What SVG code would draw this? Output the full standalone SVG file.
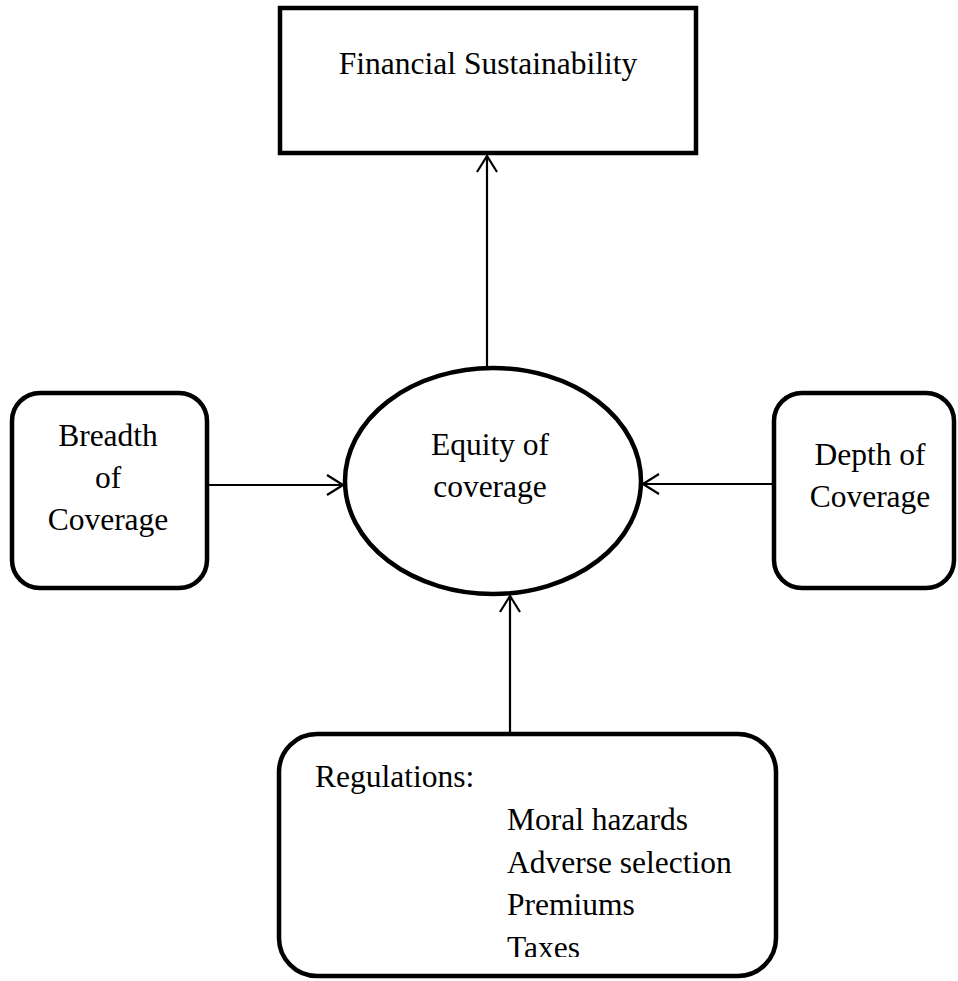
<svg xmlns="http://www.w3.org/2000/svg" width="958" height="981" viewBox="0 0 958 981">
<style>
.box{fill:#fff;stroke:#000;stroke-width:4.5}
.t{font-family:"Liberation Serif","Times New Roman",serif;font-size:31.5px;fill:#000}
.c{text-anchor:middle}
.con{stroke:#000;stroke-width:2.2;fill:none}
</style>
<defs>
<marker id="ah" viewBox="0 0 18 22" refX="17" refY="11" markerWidth="18" markerHeight="22" markerUnits="userSpaceOnUse" orient="auto">
<path d="M1,1 L17,11 L1,21" fill="none" stroke="#000" stroke-width="2.2"/>
</marker>
<clipPath id="clipB"><rect x="0" y="0" width="958" height="957"/></clipPath>
</defs>
<rect width="958" height="981" fill="#fff"/>
<g id="connectors">
<line class="con" x1="487" y1="367" x2="487" y2="156" marker-end="url(#ah)"/>
<line class="con" x1="209" y1="485" x2="343" y2="485" marker-end="url(#ah)"/>
<line class="con" x1="773" y1="484" x2="643" y2="484" marker-end="url(#ah)"/>
<line class="con" x1="510" y1="732" x2="510" y2="596" marker-end="url(#ah)"/>
</g>
<g id="financial">
<rect class="box" x="280" y="8" width="416" height="145"/>
<text class="t c" x="488" y="74">Financial Sustainability</text>
</g>
<g id="equity">
<ellipse class="box" cx="493" cy="481" rx="148" ry="113"/>
<text class="t c" x="490" y="455">Equity of</text>
<text class="t c" x="490" y="497">coverage</text>
</g>
<g id="breadth">
<rect class="box" x="12" y="393" width="195" height="195" rx="28"/>
<text class="t c" x="108" y="446">Breadth</text>
<text class="t c" x="108" y="488">of</text>
<text class="t c" x="108" y="530">Coverage</text>
</g>
<g id="depth">
<rect class="box" x="774" y="393" width="180" height="195" rx="28"/>
<text class="t c" x="870" y="465">Depth of</text>
<text class="t c" x="870" y="507">Coverage</text>
</g>
<g id="regulations">
<rect class="box" x="279" y="734" width="497" height="242" rx="38"/>
<text class="t" x="315" y="787">Regulations:</text>
<text class="t" x="507" y="830">Moral hazards</text>
<text class="t" x="507" y="873">Adverse selection</text>
<text class="t" x="507" y="915">Premiums</text>
<text class="t" x="507" y="958" clip-path="url(#clipB)">Taxes</text>
</g>
</svg>
